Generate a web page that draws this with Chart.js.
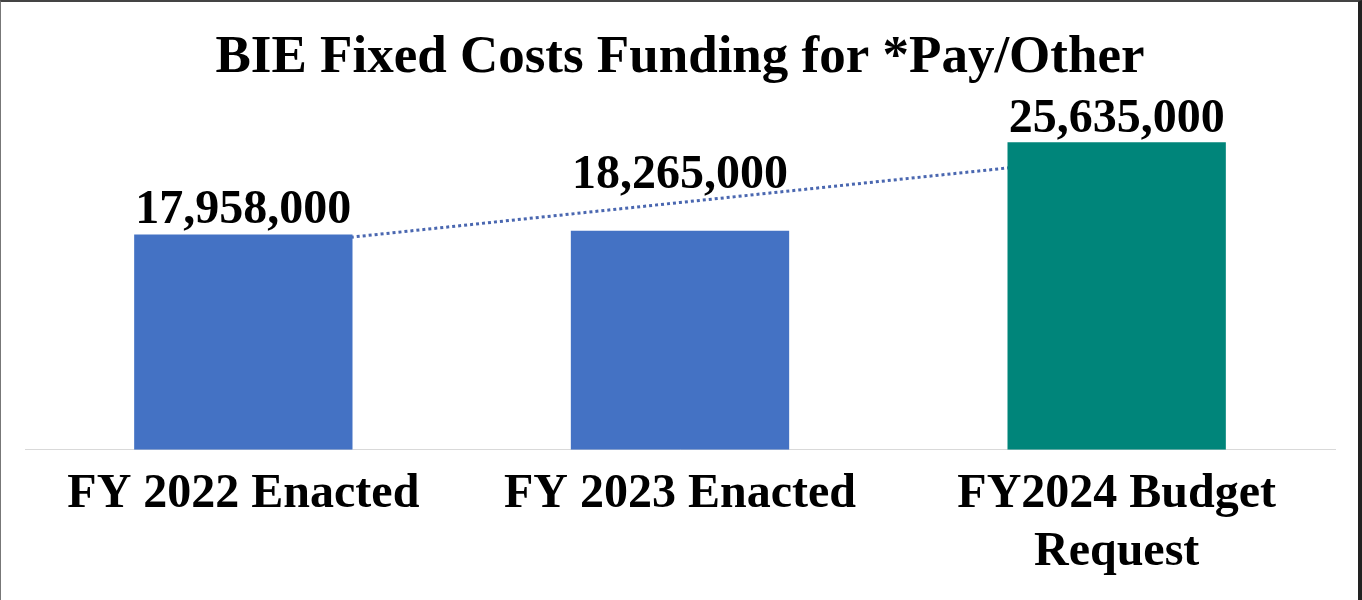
<!DOCTYPE html>
<html>
<head>
<meta charset="utf-8">
<script src="https://cdn.jsdelivr.net/npm/chart.js@4/dist/chart.umd.min.js"></script>
<style>
  html, body { margin: 0; padding: 0; background: #fff; }
  #wrap {
    width: 1362px; height: 600px; box-sizing: border-box;
    border-top: 2px solid #444; border-left: 1px solid #777; border-right: 4px solid #222;
    position: relative;
  }
</style>
</head>
<body>
<div id="wrap"><canvas id="fundingChart"></canvas></div>
<script>
const categories = [['FY 2022 Enacted'], ['FY 2023 Enacted'], ['FY2024 Budget', 'Request']];
const funding = [17958000, 18265000, 25635000];
// dotted linear trend line at each category centre
const trendValues = [16780000, 20620000, 24460000];
const barColors = ['#4472C4', '#4472C4', '#00857A'];

const serif = '"Liberation Serif", "Times New Roman", serif';

// draws the value above each bar, like the Excel data labels
const valueLabels = {
    id: 'valueLabels',
    afterDatasetsDraw(chart, args, opts) {
        const ctx = chart.ctx;
        const meta = chart.getDatasetMeta(0);
        ctx.save();
        ctx.font = 'bold 48px ' + serif;
        ctx.fillStyle = '#000';
        ctx.textAlign = 'center';
        ctx.textBaseline = 'alphabetic';
        meta.data.forEach((bar, i) => {
            const v = chart.data.datasets[0].data[i];
            ctx.fillText(v.toLocaleString('en-US'), bar.x, bar.y - opts.offsets[i]);
        });
        ctx.restore();
    }
};

const ctx = document.getElementById('fundingChart').getContext('2d');

let fundingChart = new Chart(ctx, {
    type: 'bar',
    data: {
        labels: categories,
        datasets: [{
            label: 'Funding',
            data: funding,
            backgroundColor: barColors,
            categoryPercentage: 1,
            barPercentage: 0.5,
            order: 1
        }, {
            type: 'line',
            label: 'Trend',
            data: trendValues,
            borderColor: '#4a67b0',
            borderWidth: 3,
            borderDash: [3, 3],
            pointRadius: 0,
            fill: false,
            order: 2
        }]
    },
    options: {
        responsive: true,
        maintainAspectRatio: false,
        animation: false,
        layout: {
            padding: { left: 24, right: 23, top: 0, bottom: 3 }
        },
        plugins: {
            legend: { display: false },
            tooltip: { enabled: false },
            title: {
                display: true,
                text: 'BIE Fixed Costs Funding for *Pay/Other',
                color: '#000',
                font: { family: serif, size: 53, weight: 'bold', lineHeight: 1.0 },
                padding: { top: 30, bottom: 5 }
            },
            valueLabels: { offsets: [11, 43, 10] }
        },
        scales: {
            x: {
                grid: { display: false, drawTicks: false },
                border: { display: true, color: '#d9d9d9', width: 1 },
                ticks: {
                    color: '#000',
                    padding: 16,
                    maxRotation: 0,
                    autoSkip: false,
                    font: { family: serif, size: 48, weight: 'bold', lineHeight: 1.2 }
                }
            },
            y: {
                display: false,
                min: 0,
                max: 30000000
            }
        }
    },
    plugins: [valueLabels]
});
</script>
</body>
</html>
